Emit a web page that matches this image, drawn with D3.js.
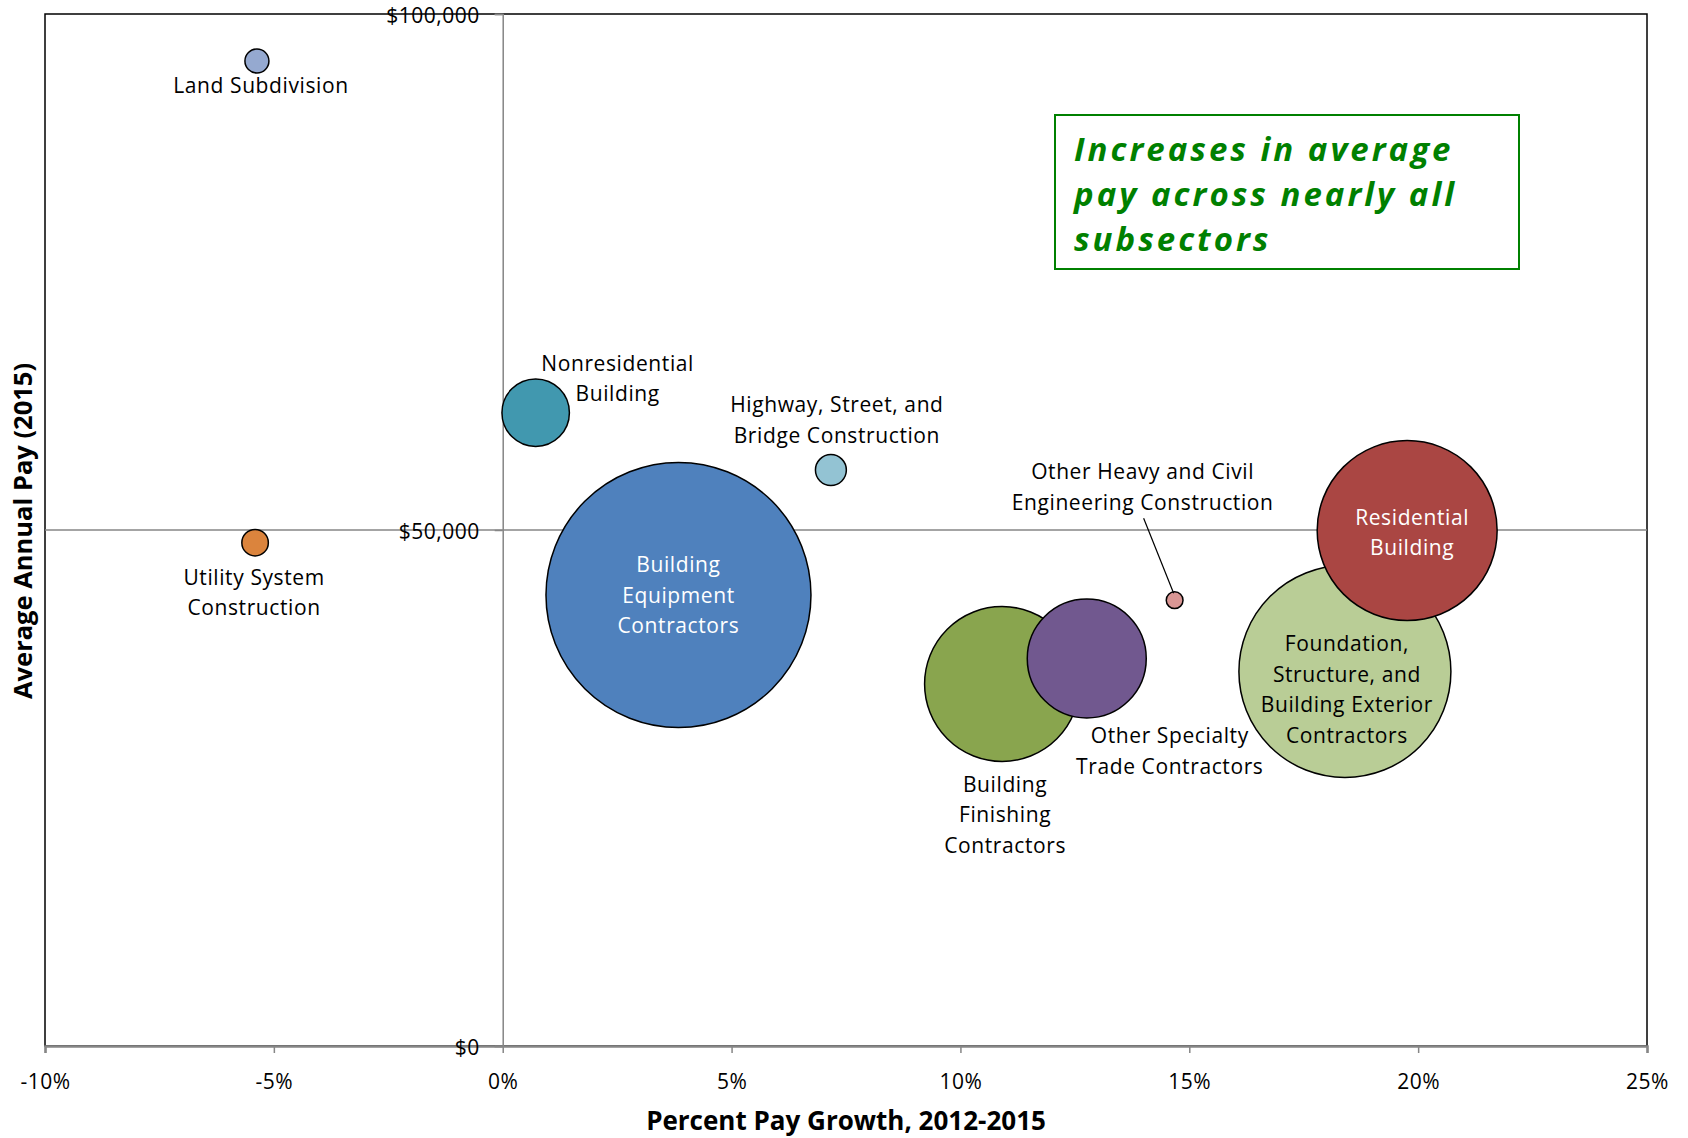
<!DOCTYPE html>
<html>
<head>
<meta charset="utf-8">
<script src="https://cdn.jsdelivr.net/npm/d3@7"></script>
<style>
  body { margin: 0; background: #fff; }
  text { font-family: "Open Sans", sans-serif; }
</style>
</head>
<body>
<div id="chart"></div>
<script>
// subsectors, pay growth 2012-2015 (%), average annual pay 2015 ($), bubble size (employment)
const sectors = [
  "Land Subdivision", "Utility System Construction", "Nonresidential Building",
  "Highway, Street, and Bridge Construction", "Building Equipment Contractors",
  "Building Finishing Contractors", "Other Specialty Trade Contractors",
  "Other Heavy and Civil Engineering Construction",
  "Foundation, Structure, and Building Exterior Contractors", "Residential Building"
];
const payGrowth = [-5.37, -5.41, 0.72, 7.17, 3.84, 10.91, 12.76, 14.68, 18.40, 19.76];
const avgPay = [95450, 48770, 61370, 55810, 43700, 35080, 37550, 43200, 36290, 49950];
const employment = [205, 250, 1620, 340, 25000, 8550, 5040, 100, 16000, 11530];
const labelLines = [
  ["Land Subdivision"],
  ["Utility System", "Construction"],
  ["Nonresidential", "Building"],
  ["Highway, Street, and", "Bridge Construction"],
  ["Building", "Equipment", "Contractors"],
  ["Building", "Finishing", "Contractors"],
  ["Other Specialty", "Trade Contractors"],
  ["Other Heavy and Civil", "Engineering Construction"],
  ["Foundation,", "Structure, and", "Building Exterior", "Contractors"],
  ["Residential", "Building"]
];
const calloutLines = ["Increases in average", "pay across nearly all", "subsectors"];
const xTicks = [-10, -5, 0, 5, 10, 15, 20, 25];
const yTicks = [0, 50000, 100000];

const colors = ["#95a9d0", "#db843d", "#4198af", "#93c3d3", "#4f81bd",
                "#89a54e", "#71588f", "#d99694", "#b9cd96", "#aa4643"];
// label offset from bubble centre (first baseline), text colour
const labelPos = [
  [4, 32, "#000"], [-1, 42, "#000"], [82, -42, "#000"], [6, -58, "#000"],
  [0, -23, "#fff"], [3, 108, "#000"], [83, 85, "#000"], [-32, -121, "#000"],
  [2, -20, "#000"], [5, -6, "#fff"]
];

let width = 1688;
let height = 1138;
let plotLeft = 45, plotRight = 1647, plotTop = 14, plotBottom = 1046;

let xScale = d3.scaleLinear().domain([-10, 25]).range([plotLeft, plotRight]);
let yScale = d3.scaleLinear().domain([0, 100000]).range([plotBottom, plotTop]);
let rScale = d3.scaleSqrt().domain([0, 25000]).range([0, 132.5]);

let svg = d3.select("#chart")
  .append("svg")
  .attr("width", width)
  .attr("height", height);

let data = sectors.map((s, i) => ({
  name: s, x: payGrowth[i], y: avgPay[i], size: employment[i],
  color: colors[i], lines: labelLines[i], pos: labelPos[i]
}));

// plot frame
svg.append("rect")
  .attr("x", plotLeft).attr("y", plotTop)
  .attr("width", plotRight - plotLeft).attr("height", plotBottom - plotTop)
  .attr("fill", "none").attr("stroke", "#000").attr("stroke-width", 1.5);

// gridline at $50,000
svg.append("line")
  .attr("x1", plotLeft).attr("x2", plotRight)
  .attr("y1", yScale(50000)).attr("y2", yScale(50000))
  .attr("stroke", "#868686").attr("stroke-width", 1.5);

// x axis at bottom
let xAxis = d3.axisBottom(xScale)
  .tickValues(xTicks)
  .tickSize(7)
  .tickFormat(d => d + "%");

let gx = svg.append("g")
  .attr("transform", "translate(0," + plotBottom + ")")
  .call(xAxis);
gx.select(".domain").attr("stroke", "#868686").attr("stroke-width", 2.5);
gx.selectAll(".tick line").attr("stroke", "#868686").attr("stroke-width", 1.5);
gx.selectAll(".tick text")
  .attr("y", 43).attr("dy", 0)
  .attr("font-size", "21px").attr("letter-spacing", "0.5px")
  .attr("font-family", "Open Sans").attr("fill", "#000");

// y axis crossing at 0%
let yAxis = d3.axisLeft(yScale)
  .tickValues(yTicks)
  .tickSize(8)
  .tickFormat(d => "$" + d3.format(",")(d));

let gy = svg.append("g")
  .attr("transform", "translate(" + xScale(0) + ",0)")
  .call(yAxis);
gy.select(".domain").attr("stroke", "#868686").attr("stroke-width", 1.5);
gy.selectAll(".tick line").attr("stroke", "#868686").attr("stroke-width", 1.5);
gy.selectAll(".tick text")
  .attr("x", -23).attr("dy", 0).attr("y", 8)
  .attr("font-size", "21px").attr("letter-spacing", "0.5px")
  .attr("font-family", "Open Sans").attr("fill", "#000");

// bubbles, biggest first
let sorted = data.slice().sort((a, b) => b.size - a.size);
svg.selectAll("circle.bubble")
  .data(sorted)
  .enter()
  .append("circle")
  .attr("class", "bubble")
  .attr("cx", d => xScale(d.x))
  .attr("cy", d => yScale(d.y))
  .attr("r", d => rScale(d.size))
  .attr("fill", d => d.color)
  .attr("stroke", "#000")
  .attr("stroke-width", 1.5);

// leader line for the small one
let ohce = data[7];
svg.append("line")
  .attr("x1", xScale(ohce.x) - 31).attr("y1", yScale(ohce.y) - 82)
  .attr("x2", xScale(ohce.x) - 1).attr("y2", yScale(ohce.y) - 7)
  .attr("stroke", "#000").attr("stroke-width", 1.2);

// labels
let labels = svg.selectAll("text.label")
  .data(data)
  .enter()
  .append("text")
  .attr("class", "label")
  .attr("text-anchor", "middle")
  .attr("font-size", "21px")
  .attr("letter-spacing", "0.6px")
  .attr("fill", d => d.pos[2]);

labels.selectAll("tspan")
  .data(d => d.lines.map((l, j) => ({ l: l, j: j, d: d })))
  .enter()
  .append("tspan")
  .attr("x", t => xScale(t.d.x) + t.d.pos[0])
  .attr("y", t => yScale(t.d.y) + t.d.pos[1] + t.j * 30.5)
  .text(t => t.l);

// axis titles
svg.append("text")
  .attr("x", (plotLeft + plotRight) / 2)
  .attr("y", 1130)
  .attr("text-anchor", "middle")
  .attr("font-size", "26px")
  .attr("font-weight", "bold")
  .text("Percent Pay Growth, 2012-2015");

svg.append("text")
  .attr("transform", "rotate(-90)")
  .attr("x", -531)
  .attr("y", 32)
  .attr("text-anchor", "middle")
  .attr("font-size", "25.5px")
  .attr("font-weight", "bold")
  .text("Average Annual Pay (2015)");

// callout box
svg.append("rect")
  .attr("x", 1055).attr("y", 115)
  .attr("width", 464).attr("height", 154)
  .attr("fill", "#fff")
  .attr("stroke", "#008000").attr("stroke-width", 2);

svg.selectAll("text.callout")
  .data(calloutLines)
  .enter()
  .append("text")
  .attr("class", "callout")
  .attr("x", 1074)
  .attr("y", (d, i) => 161 + i * 45)
  .attr("font-size", "33px")
  .attr("font-weight", "bold")
  .attr("font-style", "italic")
  .attr("letter-spacing", "3px")
  .attr("fill", "#008000")
  .text(d => d);
</script>
</body>
</html>
